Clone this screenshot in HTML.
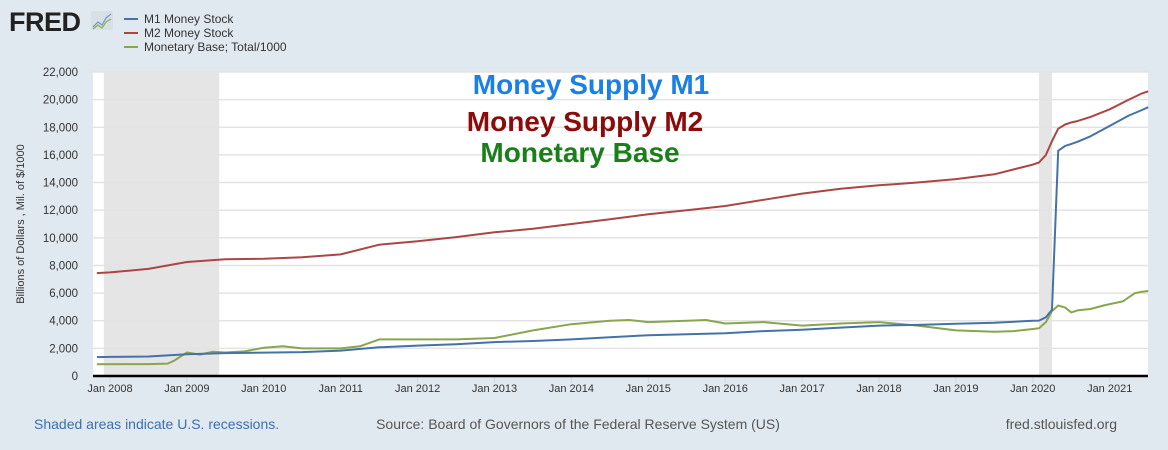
<!DOCTYPE html>
<html><head><meta charset="utf-8"><style>
body{margin:0;width:1168px;height:450px;background:#e1e9f0;font-family:"Liberation Sans",sans-serif;overflow:hidden}
svg{display:block}
</style></head><body>
<svg width="1168" height="450">
<g>
<text x="9" y="31" font-size="27" font-weight="bold" fill="#222" letter-spacing="-0.5">FRED</text>
<rect x="91" y="11" width="22" height="19" fill="#d8dfe6" rx="2"/>
<polyline points="93,27 98,22 102,25 106,18 111,14" fill="none" stroke="#6a9ac8" stroke-width="1.2"/>
<polyline points="93,29 98,25 102,28 106,22 111,19" fill="none" stroke="#8ab04a" stroke-width="1.2"/>
</g>
<g font-size="12" fill="#333">
<line x1="124" y1="19" x2="138" y2="19" stroke="#4572a7" stroke-width="2"/><text x="144" y="23">M1 Money Stock</text>
<line x1="124" y1="33" x2="138" y2="33" stroke="#aa4643" stroke-width="2"/><text x="144" y="37">M2 Money Stock</text>
<line x1="124" y1="47" x2="138" y2="47" stroke="#89a54e" stroke-width="2"/><text x="144" y="51">Monetary Base; Total/1000</text>
</g>
<rect x="93" y="72" width="1055" height="304" fill="#fff"/>
<g id="rec"></g><g id="grid"></g><g id="xt"></g><g id="series"></g>
<line x1="93" y1="376" x2="1148" y2="376" stroke="#000" stroke-width="2.5"/>
<text transform="translate(24,224) rotate(-90)" text-anchor="middle" font-size="11" fill="#333">Billions of Dollars , Mil. of $/1000</text>
<text x="591" y="94" text-anchor="middle" font-size="28" font-weight="bold" fill="#1a7fe6">Money Supply M1</text>
<text x="585" y="131" text-anchor="middle" font-size="28" font-weight="bold" fill="#8b0a0a">Money Supply M2</text>
<text x="580" y="162" text-anchor="middle" font-size="28" font-weight="bold" fill="#1a7f1a">Monetary Base</text>
<text x="34" y="429" font-size="14" fill="#3a6fb0">Shaded areas indicate U.S. recessions.</text>
<text x="578" y="429" text-anchor="middle" font-size="14" fill="#555">Source: Board of Governors of the Federal Reserve System (US)</text>
<text x="1117" y="429" text-anchor="end" font-size="14" fill="#555">fred.stlouisfed.org</text>
</svg>
<script>
const yTicks=[0,2000,4000,6000,8000,10000,12000,14000,16000,18000,20000,22000];
const xTickYears=[2008,2009,2010,2011,2012,2013,2014,2015,2016,2017,2018,2019,2020,2021];
const recessions=[[2007.92,2009.42],[2020.08,2020.25]];
const m1Dates=[2007.83,2008,2008.5,2009,2009.5,2010,2010.5,2011,2011.5,2012,2012.5,2013,2013.5,2014,2014.5,2015,2015.5,2016,2016.5,2017,2017.5,2018,2018.5,2019,2019.5,2020,2020.08,2020.17,2020.25,2020.33,2020.42,2020.5,2020.58,2020.75,2021,2021.25,2021.42,2021.5];
const m1Vals=[1370,1380,1410,1580,1660,1690,1730,1840,2080,2200,2300,2450,2530,2650,2800,2950,3020,3100,3250,3350,3500,3650,3700,3780,3850,4000,4010,4250,4800,16300,16650,16800,16950,17350,18100,18850,19250,19450];
const m2Dates=[2007.83,2008,2008.5,2009,2009.5,2010,2010.5,2011,2011.5,2012,2012.5,2013,2013.5,2014,2014.5,2015,2015.5,2016,2016.5,2017,2017.5,2018,2018.5,2019,2019.5,2020,2020.08,2020.17,2020.25,2020.33,2020.42,2020.5,2020.58,2020.75,2021,2021.25,2021.42,2021.5];
const m2Vals=[7450,7500,7750,8250,8450,8480,8600,8800,9500,9750,10050,10400,10650,11000,11350,11700,12000,12300,12750,13200,13550,13800,14000,14250,14600,15300,15450,16000,17000,17900,18200,18350,18450,18750,19300,20000,20450,20600];
const baseDates=[2007.83,2008.5,2008.75,2008.83,2009,2009.17,2009.33,2009.5,2009.75,2010,2010.25,2010.5,2011,2011.25,2011.5,2012,2012.5,2013,2013.5,2014,2014.5,2014.75,2015,2015.5,2015.75,2016,2016.5,2017,2017.5,2018,2018.5,2019,2019.5,2019.75,2020,2020.08,2020.17,2020.25,2020.33,2020.42,2020.5,2020.58,2020.75,2020.92,2021,2021.17,2021.25,2021.33,2021.42,2021.5];
const baseVals=[850,860,900,1100,1700,1550,1750,1700,1780,2050,2150,2000,2000,2150,2650,2650,2650,2750,3300,3750,4000,4050,3900,4000,4050,3800,3900,3650,3800,3900,3650,3300,3200,3250,3400,3450,3900,4700,5100,4950,4600,4750,4850,5100,5200,5400,5700,6000,6100,6150];
const X=t=>110+(t-2008)*76.9, Y=v=>376-v*304/22000;
const NS='http://www.w3.org/2000/svg';
function mk(tag,attrs,parent){const e=document.createElementNS(NS,tag);for(const k in attrs)e.setAttribute(k,attrs[k]);document.getElementById(parent).appendChild(e);return e;}
recessions.forEach(r=>{const e=mk('rect',{x:X(r[0]),y:72,width:X(r[1])-X(r[0]),height:304,fill:'#e5e5e5'},'rec');

});
yTicks.forEach(v=>{if(v>0){const l=mk('line',{x1:93,x2:1148,y1:Y(v),y2:Y(v),stroke:'#e3e3e3','stroke-width':1.5},'grid');

}
const t=mk('text',{x:78,y:Y(v)+4,'text-anchor':'end','font-size':11.5,fill:'#333'},'grid');t.textContent=v.toLocaleString('en-US');

});
xTickYears.forEach(yr=>{const l=mk('line',{x1:X(yr),x2:X(yr),y1:377,y2:383,stroke:'#ccd6eb'},'xt');


const t=mk('text',{x:X(yr),y:392,'text-anchor':'middle','font-size':11,fill:'#333'},'xt');t.textContent='Jan '+yr;

});
[[baseDates,baseVals,'#89a54e','series-monetary-base'],[m1Dates,m1Vals,'#4572a7','series-m1'],[m2Dates,m2Vals,'#aa4643','series-m2']].forEach(s=>{
const p=mk('polyline',{points:s[0].map((d,i)=>X(d).toFixed(1)+','+Y(s[1][i]).toFixed(1)).join(' '),fill:'none',stroke:s[2],'stroke-width':2,'stroke-linejoin':'round'},'series');

});
</script>
</body></html>
